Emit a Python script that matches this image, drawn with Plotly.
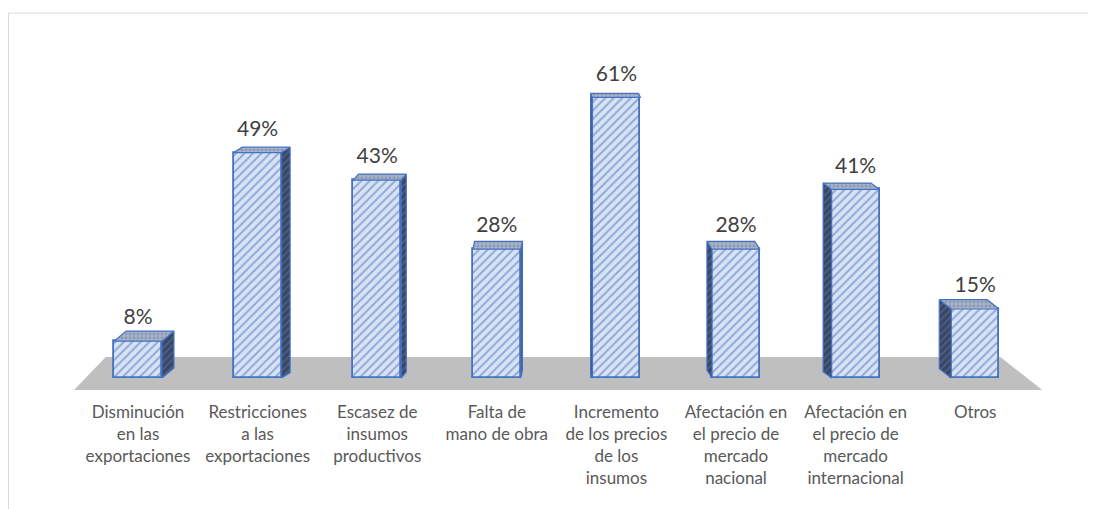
import plotly.graph_objects as go

categories = [
    "Disminución<br>en las<br>exportaciones",
    "Restricciones<br>a las<br>exportaciones",
    "Escasez de<br>insumos<br>productivos",
    "Falta de<br>mano de obra",
    "Incremento<br>de los precios<br>de los<br>insumos",
    "Afectación en<br>el precio de<br>mercado<br>nacional",
    "Afectación en<br>el precio de<br>mercado<br>internacional",
    "Otros",
]
values = [8, 49, 43, 28, 61, 28, 41, 15]
value_labels = ["8%", "49%", "43%", "28%", "61%", "28%", "41%", "15%"]

n = len(values)
xs = list(range(n))
BAR_W = 0.40
BLUE = "#4472c4"
LIGHT = "#dae3f3"

fig = go.Figure()

# perspective faces (side + top) derived from values
mid = (n - 1) / 2
for i, v in enumerate(values):
    dx = -(i - mid) * 0.0287
    dy = 2.4 - 0.025 * v
    xl, xr = i - BAR_W / 2, i + BAR_W / 2
    edge = xr if dx > 0 else xl
    # side face
    fig.add_trace(go.Scatter(
        x=[edge, edge, edge + dx, edge + dx, edge],
        y=[0, v, v + dy, dy, 0],
        mode="lines", fill="toself",
        fillcolor="#44546a",
        fillpattern=dict(shape="/", fgcolor="#5b7bc4", bgcolor="#3a475f", size=5, solidity=0.3),
        line=dict(color=BLUE, width=1.2),
        hoverinfo="skip", showlegend=False,
    ))
    # top face
    fig.add_trace(go.Scatter(
        x=[xl, xr, xr + dx, xl + dx, xl],
        y=[v, v, v + dy, v + dy, v],
        mode="lines", fill="toself",
        fillcolor="#9aa6bf",
        fillpattern=dict(shape=".", fgcolor="#6f7f9f", bgcolor="#a9b3c8", size=4, solidity=0.4),
        line=dict(color=BLUE, width=1.2),
        hoverinfo="skip", showlegend=False,
    ))

# front faces
fig.add_trace(go.Bar(
    x=xs, y=values, width=BAR_W,
    marker=dict(
        color=LIGHT,
        line=dict(color=BLUE, width=1.8),
        pattern=dict(shape="/", fgcolor=BLUE, bgcolor=LIGHT, size=6, solidity=0.35, fillmode="overlay"),
    ),
    hoverinfo="skip", showlegend=False,
))

# value labels
label_y = [v + 2.5 for v in values]
fig.add_trace(go.Scatter(
    x=xs, y=label_y, mode="text", text=value_labels,
    textposition="top center",
    textfont=dict(family="Lato, Open Sans, sans-serif", size=21, color="#404040"),
    hoverinfo="skip", showlegend=False,
))

# floor (gray plane)
fig.add_shape(
    type="path",
    path="M -0.535 -2.6 L 7.56 -2.6 L 7.21 4.57 L -0.27 4.57 Z",
    xref="x", yref="y",
    fillcolor="#bfbfbf", line=dict(width=0), layer="below",
)

# chart frame
fig.add_shape(type="line", xref="paper", yref="paper",
              x0=0.0005, x1=1.0, y0=0.987, y1=0.987,
              line=dict(color="#d9d9d9", width=1))
fig.add_shape(type="line", xref="paper", yref="paper",
              x0=0.0005, x1=0.0005, y0=0.987, y1=-0.3,
              line=dict(color="#d9d9d9", width=1))

fig.update_layout(
    width=1088, height=501,
    margin=dict(l=0, r=0, t=0, b=109),
    paper_bgcolor="white", plot_bgcolor="white",
    bargap=0,
    xaxis=dict(
        range=[-1.087, 8.010],
        tickmode="array", tickvals=xs, ticktext=categories,
        showgrid=False, zeroline=False, showline=False, ticks="",
        tickfont=dict(family="Lato, Open Sans, sans-serif", size=17, color="#595959"),
        fixedrange=True,
    ),
    yaxis=dict(
        range=[-4.78, 80.44],
        showgrid=False, zeroline=False, showline=False, showticklabels=False,
        fixedrange=True,
    ),
    showlegend=False,
)

fig.write_html("out.html")
